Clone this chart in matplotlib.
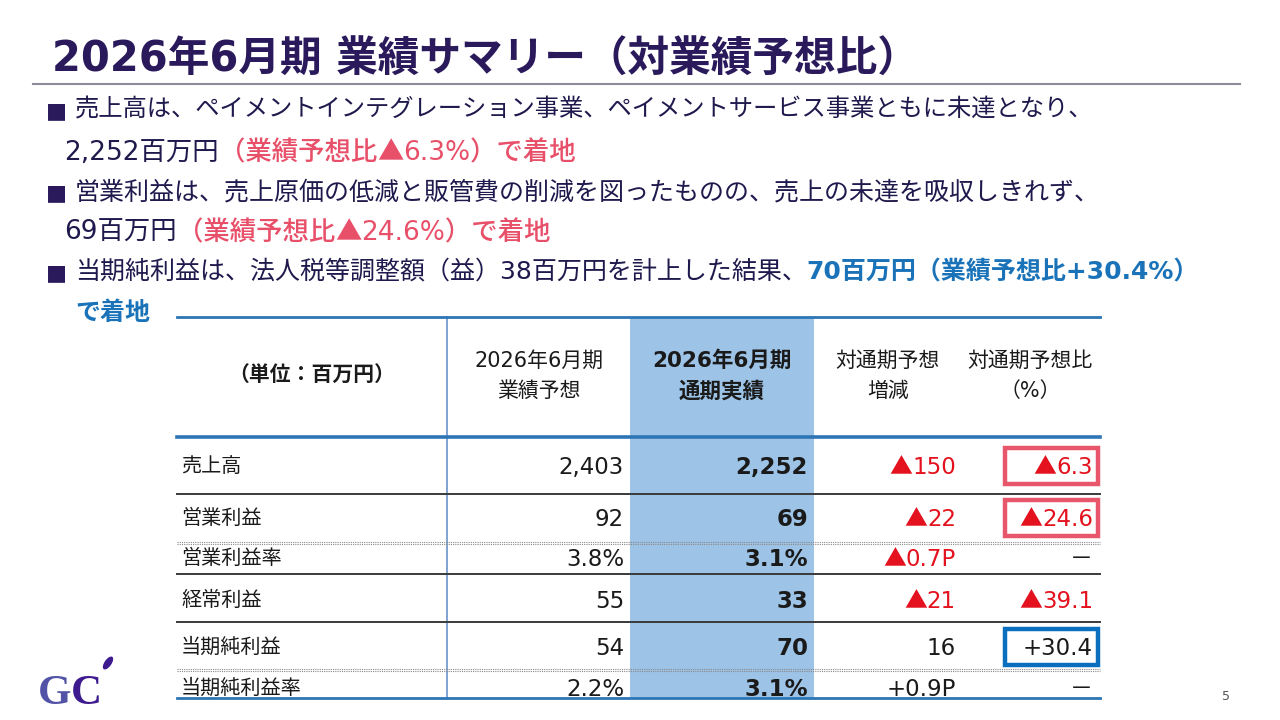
import matplotlib
matplotlib.use('Agg')
import matplotlib.pyplot as plt
from matplotlib.patches import Rectangle, Ellipse

DEF = ['DejaVu Sans', 'Noto Sans CJK JP']
CJK = ['Noto Sans CJK JP', 'DejaVu Sans']
plt.rcParams['font.family'] = DEF

# ---------------- data ----------------
title = '2026年6月期 業績サマリー（対業績予想比）'
col_headers = ['（単位：百万円）', '2026年6月期\n業績予想', '2026年6月期\n通期実績',
               '対通期予想\n増減', '対通期予想比\n（%）']
row_labels = ['売上高', '営業利益', '営業利益率', '経常利益', '当期純利益', '当期純利益率']
forecast = ['2,403', '92', '3.8%', '55', '54', '2.2%']
actual = ['2,252', '69', '3.1%', '33', '70', '3.1%']
diff = ['▲150', '▲22', '▲0.7P', '▲21', '16', '+0.9P']
pct = ['▲6.3', '▲24.6', '－', '▲39.1', '+30.4', '－']
red_boxed = [0, 1]
blue_boxed = [4]

NAVY = '#1f1a4d'
TITLE = '#2a1a5c'
PINK = '#e8506a'
BLUE = '#1a73b8'
RED = '#e3121e'
INK = '#1a1a1a'

fig = plt.figure(figsize=(12.8, 7.2), dpi=100)
ax = fig.add_axes([0, 0, 1, 1])
ax.set_xlim(0, 1280)
ax.set_ylim(720, 0)
ax.axis('off')
renderer = fig.canvas.get_renderer()


def rich(x, y, parts, size, ha='left'):
    """parts: list of (text, color, weight[, family]); baseline aligned."""
    texts, widths = [], []
    for p in parts:
        txt, color, weight = p[:3]
        fam = p[3] if len(p) > 3 else DEF
        t = ax.text(0, y, txt, fontsize=size, color=color, fontweight=weight,
                    family=fam, ha='left', va='baseline')
        bb = t.get_window_extent(renderer)
        texts.append(t)
        widths.append(bb.width)
    total = sum(widths)
    cx = x - total if ha == 'right' else x
    for t, w in zip(texts, widths):
        t.set_x(cx)
        cx += w
    return cx


def split_tri(s, color, weight):
    if s.startswith('▲'):
        return [('▲', color, 'normal', CJK), (s[1:], color, weight)]
    return [(s, color, weight)]


# ---------------- title ----------------
ax.text(52, 72, title, fontsize=30, fontweight='bold', color=TITLE,
        ha='left', va='baseline')
ax.plot([33, 1240], [84, 84], color='#8c8c9c', lw=1.5)

# ---------------- bullets ----------------
bs = 18
rich(46, 117, [('■', TITLE, 'normal')], 16)
rich(75, 117, [('売上高は、ペイメントインテグレーション事業、ペイメントサービス事業ともに未達となり、', NAVY, 'normal')], 17.5)
rich(64, 160, [('2,252百万円', NAVY, 'normal'), ('（業績予想比', PINK, 'medium'),
               ('▲', PINK, 'normal', CJK), ('6.3%）で着地', PINK, 'medium')], 19)
rich(46, 199, [('■', TITLE, 'normal')], 16)
rich(75, 199, [('営業利益は、売上原価の低減と販管費の削減を図ったものの、売上の未達を吸収しきれず、', NAVY, 'normal')], bs)
rich(64, 240, [('69百万円', NAVY, 'normal'), ('（業績予想比', PINK, 'medium'),
               ('▲', PINK, 'normal', CJK), ('24.6%）で着地', PINK, 'medium')], 19)
rich(46, 279, [('■', TITLE, 'normal')], 16)
rich(75, 279, [('当期純利益は、法人税等調整額（益）38百万円を計上した結果、', NAVY, 'normal'),
               ('70百万円（業績予想比+30.4%）', BLUE, 'bold')], bs)
rich(75, 320, [('で着地', BLUE, 'bold')], bs)

# ---------------- table ----------------
tx0, tx1 = 177, 1100
ty0, thead, ty1 = 317, 437, 698
hl0, hl1 = 630, 814
ax.add_patch(Rectangle((hl0, ty0), hl1 - hl0, ty1 - ty0, facecolor='#9dc3e6',
                       edgecolor='none', zorder=0))
ax.plot([447, 447], [ty0, ty1], color='#6a95c8', lw=1.2, zorder=1)

sep_y = [494, 543, 574, 622, 670]
sep_style = ['solid', 'dotted', 'solid', 'solid', 'dotted']
for y, st in zip(sep_y, sep_style):
    if st == 'solid':
        ax.plot([tx0, tx1], [y, y], color='#3a3a3a', lw=1.4, zorder=2)
    else:
        ax.plot([tx0, tx1], [y - 1, y - 1], color='#8a8a8a', lw=0.8, ls=(0, (1, 1)), zorder=2)
        ax.plot([tx0, tx1], [y + 1, y + 1], color='#8a8a8a', lw=0.8, ls=(0, (1, 1)), zorder=2)
for y, lw in [(ty0, 2.0), (thead, 2.6), (ty1, 2.0)]:
    ax.plot([tx0, tx1], [y, y], color='#2e75b6', lw=lw, zorder=3)

# headers
hx = [312, 539, 722, 888, 1030]
for i, (x, h) in enumerate(zip(hx, col_headers)):
    wt = 'bold' if i in (0, 2) else 'normal'
    ax.text(x, 376, h, fontsize=15 if i != 2 else 15.5, fontweight=wt, color=INK,
            ha='center', va='center', linespacing=1.6)

row_y = [466, 518, 558, 600, 647, 688]
nsz = 16.5
for i, y in enumerate(row_y):
    yb = y + 8
    ax.text(181, y, row_labels[i], fontsize=14.5, color=INK, family=CJK,
            ha='left', va='center')
    rich(624, yb, [(forecast[i], INK, 'normal')], nsz, ha='right')
    rich(808, yb, [(actual[i], INK, 'bold')], nsz, ha='right')
    c = RED if diff[i].startswith('▲') else INK
    rich(956, yb, split_tri(diff[i], c, 'normal'), nsz, ha='right')
    c = RED if pct[i].startswith('▲') else INK
    parts = split_tri(pct[i], c, 'normal')
    if pct[i] == '－':
        parts = [(pct[i], c, 'normal', CJK)]
    rich(1093, yb, parts, nsz, ha='right')

for i in red_boxed:
    ax.add_patch(Rectangle((1005, row_y[i] - 18), 93, 36, facecolor='none',
                           edgecolor='#e8566c', lw=3.2, zorder=4))
for i in blue_boxed:
    ax.add_patch(Rectangle((1005, row_y[i] - 18), 93, 36, facecolor='none',
                           edgecolor='#0b6fc0', lw=3.2, zorder=4))

# ---------------- logo & page number ----------------
ax.text(38, 704, 'G', fontsize=31, fontweight='bold', color='#5252a6',
        family='Liberation Serif', ha='left', va='baseline')
ax.text(71, 704, 'C', fontsize=31, fontweight='bold', color='#3d1a8e',
        family='Liberation Serif', ha='left', va='baseline')
ax.add_patch(Ellipse((108, 663), 7, 15, angle=35, facecolor='#3d1a8e', edgecolor='none'))

ax.text(1226, 697, '5', fontsize=9, color='#555555', ha='center', va='center')

fig.savefig('out.png', dpi=100)
